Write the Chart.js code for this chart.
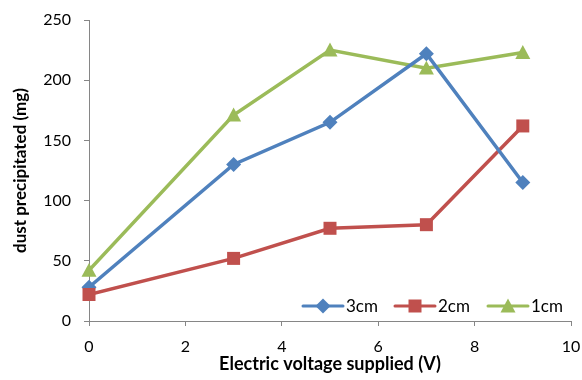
<!DOCTYPE html>
<html>
<head>
<meta charset="utf-8">
<script src="https://cdn.jsdelivr.net/npm/chart.js@4/dist/chart.umd.min.js"></script>
<style>
  html, body { margin: 0; padding: 0; background: #fff; }
  #wrap { width: 582px; height: 380px; position: relative; }
</style>
</head>
<body>
<div id="wrap"><canvas id="dustChart"></canvas></div>
<script>
const voltages = [0, 3, 5, 7, 9];
const dust3cm = [28, 130, 165, 222, 115];
const dust2cm = [22, 52, 77, 80, 162];
const dust1cm = [42, 171, 225, 210, 223];
const seriesNames = ["3cm", "2cm", "1cm"];
const xTicks = [0, 2, 4, 6, 8, 10];
const yTicks = [0, 50, 100, 150, 200, 250];

const FONT = "Lato, 'Liberation Sans', sans-serif";
const AXIS_GREY = "#868686";

const toPoints = (vals) => vals.map((v, i) => ({ x: voltages[i], y: v }));

// ── Marker drawing (shared by points and legend) ──────────
function drawMarker(c, style, x, y, color) {
  c.save();
  c.fillStyle = color;
  c.beginPath();
  if (style === "rectRot") {
    const r = 7.5;
    c.moveTo(x, y - r);
    c.lineTo(x + r, y);
    c.lineTo(x, y + r);
    c.lineTo(x - r, y);
  } else if (style === "rect") {
    const h = 6.5;
    c.rect(x - h, y - h, h * 2, h * 2);
  } else {
    const h = 7.5;
    c.moveTo(x, y - h);
    c.lineTo(x + h, y + h * 0.85);
    c.lineTo(x - h, y + h * 0.85);
  }
  c.closePath();
  c.fill();
  c.restore();
}

const series = [
  { label: seriesNames[0], data: dust3cm, color: "#4F81BD", marker: "rectRot" },
  { label: seriesNames[1], data: dust2cm, color: "#C0504D", marker: "rect" },
  { label: seriesNames[2], data: dust1cm, color: "#9BBB59", marker: "triangle" },
];

// axis box sizes are fixed so the plot area sits where the original does
function fixAxis(size) {
  return (axis) => {
    if (axis.isHorizontal()) axis.height = size;
    else axis.width = size;
    axis.paddingLeft = 0;
    axis.paddingRight = 0;
    axis.paddingTop = 0;
    axis.paddingBottom = 0;
  };
}

// ── Markers + inner legend plugin ─────────────────────────
const markerPlugin = {
  id: "markers",
  afterDatasetsDraw(chart) {
    const c = chart.ctx;
    chart.data.datasets.forEach((ds, di) => {
      const meta = chart.getDatasetMeta(di);
      meta.data.forEach((pt) => drawMarker(c, series[di].marker, pt.x, pt.y, series[di].color));
    });

    // legend inside the plot, bottom right
    const starts = [303, 395, 488];
    const ly = 306;
    c.save();
    c.font = "17px " + FONT;
    c.textBaseline = "middle";
    series.forEach((s, i) => {
      const x0 = starts[i];
      c.strokeStyle = s.color;
      c.lineWidth = 3;
      c.lineCap = "round";
      c.beginPath();
      c.moveTo(x0, ly);
      c.lineTo(x0 + 40, ly);
      c.stroke();
      drawMarker(c, s.marker, x0 + 20, ly, s.color);
      c.fillStyle = "#000";
      c.fillText(s.label, x0 + 43, ly + 1);
    });
    c.restore();
  },
};

const chart = new Chart(document.getElementById("dustChart"), {
  type: "scatter",
  data: {
    datasets: series.map((s) => ({
      label: s.label,
      data: toPoints(s.data),
      borderColor: s.color,
      backgroundColor: s.color,
      borderWidth: 3.5,
      showLine: true,
      tension: 0,
      pointRadius: 0,
      pointHoverRadius: 0,
    })),
  },
  plugins: [markerPlugin],
  options: {
    responsive: true,
    maintainAspectRatio: false,
    animation: false,
    layout: { padding: { top: 20, right: 11, left: 0, bottom: 0 } },
    plugins: {
      legend: { display: false },
      tooltip: { enabled: false },
    },
    scales: {
      x: {
        type: "linear",
        min: 0,
        max: 10,
        afterBuildTicks: (axis) => { axis.ticks = xTicks.map((v) => ({ value: v })); },
        afterFit: fixAxis(59),
        grid: { drawOnChartArea: false, tickLength: 5, color: AXIS_GREY },
        border: { color: AXIS_GREY, width: 1 },
        ticks: { font: { family: FONT, size: 16 }, color: "#000", padding: 11, maxRotation: 0 },
        title: {
          display: true,
          text: "Electric voltage supplied (V)",
          font: { family: FONT, size: 18, weight: "bold" },
          color: "#000",
          padding: { top: 0, bottom: 5 },
        },
      },
      y: {
        type: "linear",
        min: 0,
        max: 250,
        afterBuildTicks: (axis) => { axis.ticks = yTicks.map((v) => ({ value: v })); },
        afterFit: fixAxis(89),
        grid: { drawOnChartArea: false, tickLength: 5, color: AXIS_GREY },
        border: { color: AXIS_GREY, width: 1 },
        ticks: { font: { family: FONT, size: 16 }, color: "#000", padding: 13 },
        title: {
          display: true,
          text: "dust precipitated (mg)",
          font: { family: FONT, size: 17, weight: "bold" },
          color: "#000",
          padding: { top: 10, bottom: 0 },
        },
      },
    },
  },
});
</script>
</body>
</html>
